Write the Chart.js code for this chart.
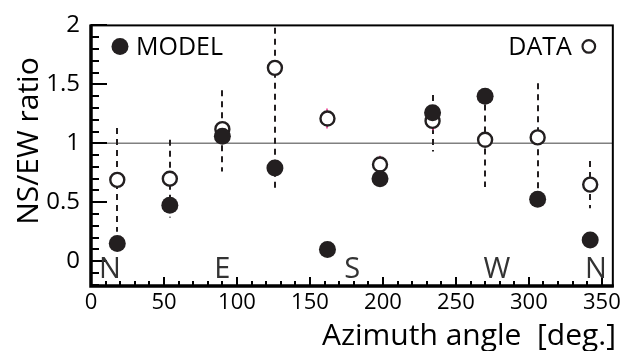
<!DOCTYPE html>
<html>
<head>
<meta charset="utf-8">
<script src="https://cdn.jsdelivr.net/npm/chart.js@4.4.1/dist/chart.umd.min.js"></script>
<style>
  html, body { margin: 0; padding: 0; background: #fff; }
  #wrap { width: 625px; height: 351px; }
</style>
</head>
<body>
<div id="wrap"><canvas id="c" width="625" height="351"></canvas></div>
<script>
// azimuth of each measurement (deg)
const azimuths   = [18, 54, 90, 126, 162, 198, 234, 270, 306, 342];
// NS/EW ratio, model prediction
const modelRatio = [0.15, 0.475, 1.06, 0.79, 0.10, 0.70, 1.26, 1.40, 0.525, 0.18];
// NS/EW ratio, measured
const dataRatio  = [0.69, 0.70, 1.12, 1.64, 1.21, 0.82, 1.19, 1.03, 1.05, 0.65];
// measured: systematic range (dashed bars)
const dataLow    = [0.25, 0.37, 0.76, 0.58, 1.21, 0.82, 0.93, 0.63, 0.60, 0.45];
const dataHigh   = [1.13, 1.03, 1.45, 1.98, 1.21, 0.82, 1.41, 1.33, 1.51, 0.85];
// measured: statistical error (small pink bars)
const dataStat   = [0.03, 0.03, 0.03, 0.03, 0.085, 0.075, 0.08, 0.03, 0.03, 0.03];

const xTickLabels = [0, 50, 100, 150, 200, 250, 300, 350];
const yTickLabels = [0, 0.5, 1, 1.5, 2];
const dirLabels  = ['N', 'E', 'S', 'W', 'N'];
const dirAngles  = [13, 90, 179, 278, 346];

const ink = '#231f20';
const fontFam = '"Open Sans", "Noto Sans", sans-serif';

function pts(ys) {
  return azimuths.map((a, i) => ({ x: a, y: ys[i] }));
}

const decor = {
  id: 'decor',
  beforeDatasetsDraw(chart) {
    const { ctx, chartArea: ca, scales: { x, y } } = chart;
    ctx.save();
    // reference line at ratio 1
    ctx.strokeStyle = '#808080';
    ctx.lineWidth = 1.5;
    ctx.beginPath();
    ctx.moveTo(ca.left, y.getPixelForValue(1));
    ctx.lineTo(ca.right, y.getPixelForValue(1));
    ctx.stroke();

    // dashed systematic bars
    ctx.strokeStyle = ink;
    ctx.lineWidth = 2;
    ctx.setLineDash([6, 5]);
    azimuths.forEach((a, i) => {
      if (dataHigh[i] - dataLow[i] < 0.01) return;
      const px = Math.round(x.getPixelForValue(a));
      ctx.beginPath();
      ctx.moveTo(px, y.getPixelForValue(dataHigh[i]));
      ctx.lineTo(px, y.getPixelForValue(dataLow[i]));
      ctx.stroke();
    });
    ctx.setLineDash([]);

    // statistical bars
    ctx.strokeStyle = '#e8308a';
    ctx.lineWidth = 1.5;
    azimuths.forEach((a, i) => {
      const px = Math.round(x.getPixelForValue(a));
      ctx.beginPath();
      ctx.moveTo(px, y.getPixelForValue(dataRatio[i] + dataStat[i]));
      ctx.lineTo(px, y.getPixelForValue(dataRatio[i] - dataStat[i]));
      ctx.stroke();
    });
    ctx.restore();
  },
  afterDraw(chart) {
    const { ctx, chartArea: ca, scales: { x, y } } = chart;
    ctx.save();
    ctx.strokeStyle = '#000';

    // inward ticks, left axis
    ctx.lineWidth = 2;
    for (let k = -2; k <= 20; k++) {
      const py = Math.round(y.getPixelForValue(k / 10));
      const len = k % 5 === 0 ? 16 : 8;
      ctx.beginPath();
      ctx.moveTo(ca.left, py);
      ctx.lineTo(ca.left + len, py);
      ctx.stroke();
    }
    // inward ticks, bottom axis
    for (let d = 0; d <= 350; d += 10) {
      const px = Math.round(x.getPixelForValue(d));
      const len = d % 50 === 0 ? 9 : 5;
      ctx.beginPath();
      ctx.moveTo(px, ca.bottom);
      ctx.lineTo(px, ca.bottom - len);
      ctx.stroke();
    }

    // frame
    ctx.lineWidth = 2;
    ctx.strokeRect(ca.left, ca.top, ca.right - ca.left, ca.bottom - ca.top);
    ctx.lineWidth = 3.5;
    ctx.beginPath();
    ctx.moveTo(ca.left, ca.top - 1);
    ctx.lineTo(ca.left, ca.bottom);
    ctx.lineTo(ca.right + 1, ca.bottom);
    ctx.stroke();

    // compass letters
    ctx.fillStyle = '#333';
    ctx.font = '29px ' + fontFam;
    ctx.textAlign = 'center';
    ctx.textBaseline = 'alphabetic';
    dirLabels.forEach((t, i) => {
      ctx.fillText(t, x.getPixelForValue(dirAngles[i]), ca.bottom - 8);
    });

    // legend entries
    ctx.fillStyle = '#000';
    ctx.font = '25px ' + fontFam;
    ctx.textBaseline = 'middle';
    const ly = ca.top + 21;
    ctx.fillStyle = ink;
    ctx.beginPath();
    ctx.arc(ca.left + 29, ly, 8.5, 0, Math.PI * 2);
    ctx.fill();
    ctx.fillStyle = '#000';
    ctx.textAlign = 'left';
    ctx.fillText(chart.data.datasets[0].label, ca.left + 45, ly + 1);
    ctx.textAlign = 'right';
    ctx.fillText(chart.data.datasets[1].label, ca.right - 41, ly + 1);
    ctx.strokeStyle = ink;
    ctx.lineWidth = 2.2;
    ctx.beginPath();
    ctx.arc(ca.right - 24, ly, 6.3, 0, Math.PI * 2);
    ctx.stroke();

    // axis titles
    ctx.fillStyle = '#000';
    ctx.font = '30px ' + fontFam;
    ctx.textAlign = 'right';
    ctx.textBaseline = 'alphabetic';
    ctx.fillText('Azimuth angle  [deg.]', 616, 345);
    ctx.save();
    ctx.translate(38, 141);
    ctx.rotate(-Math.PI / 2);
    ctx.textAlign = 'center';
    ctx.fillText('NS/EW ratio', 0, 0);
    ctx.restore();

    ctx.restore();
  }
};

new Chart(document.getElementById('c'), {
  type: 'scatter',
  data: {
    datasets: [
      {
        label: 'MODEL',
        data: pts(modelRatio),
        pointRadius: 8.5,
        pointHoverRadius: 8.5,
        pointBackgroundColor: ink,
        pointBorderWidth: 0,
        pointBorderColor: ink
      },
      {
        label: 'DATA',
        data: pts(dataRatio),
        pointRadius: 7,
        pointHoverRadius: 7,
        pointBackgroundColor: '#fff',
        pointBorderColor: ink,
        pointBorderWidth: 2.4
      }
    ]
  },
  options: {
    responsive: false,
    animation: false,
    events: [],
    layout: { padding: { left: 0, right: 12, top: 21, bottom: 0 } },
    plugins: { legend: { display: false }, tooltip: { enabled: false } },
    scales: {
      x: {
        type: 'linear',
        min: 0,
        max: 357.5,
        border: { display: false },
        grid: { display: false, drawTicks: false },
        afterBuildTicks: (s) => { s.ticks = xTickLabels.map(v => ({ value: v })); },
        afterFit: (s) => { s.height = 65; },
        ticks: {
          autoSkip: false,
          maxRotation: 0,
          padding: 4,
          color: '#000',
          font: { family: fontFam, size: 22 }
        }
      },
      y: {
        min: -0.21,
        max: 2,
        border: { display: false },
        grid: { display: false, drawTicks: false },
        afterBuildTicks: (s) => { s.ticks = yTickLabels.map(v => ({ value: v })); },
        afterFit: (s) => { s.width = 91; },
        ticks: {
          autoSkip: false,
          padding: 11,
          color: '#000',
          font: { family: fontFam, size: 24 },
          callback: (v) => String(v)
        }
      }
    }
  },
  plugins: [decor]
});
</script>
</body>
</html>
